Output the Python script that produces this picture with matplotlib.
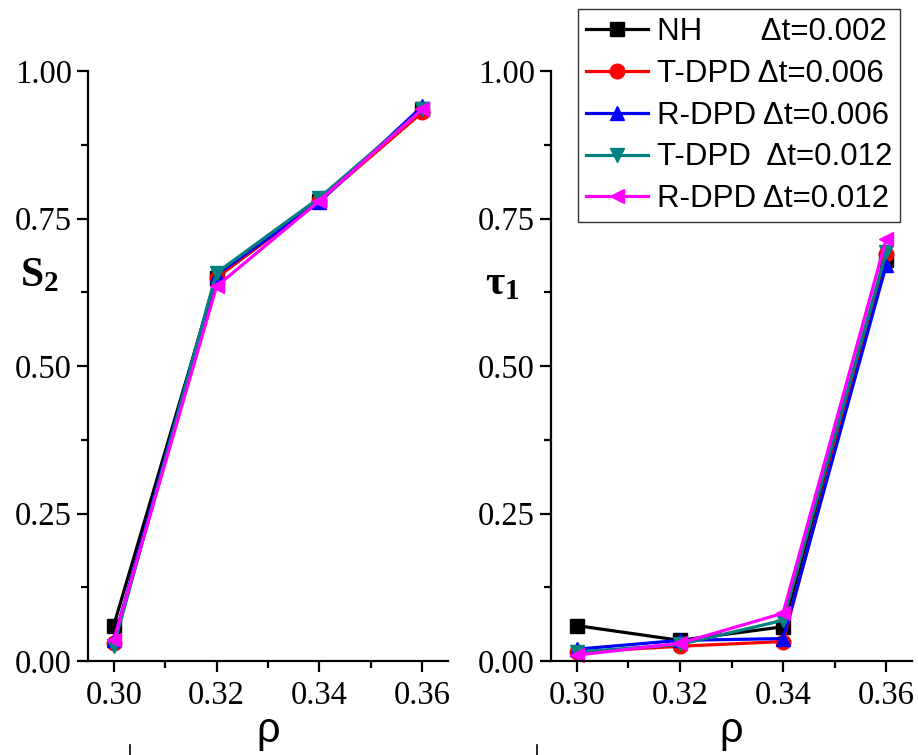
import matplotlib
matplotlib.use("Agg")
import matplotlib.pyplot as plt
from matplotlib.lines import Line2D
from matplotlib.ticker import MultipleLocator

plt.rcParams['mathtext.fontset'] = 'custom'
plt.rcParams['mathtext.rm'] = 'Liberation Serif:bold'
plt.rcParams['mathtext.it'] = 'Liberation Serif:bold'
plt.rcParams['mathtext.bf'] = 'Liberation Serif:bold'

# density values
rho = [0.30, 0.32, 0.34, 0.36]

series_labels = [
    "NH       \u0394t=0.002",
    "T-DPD \u0394t=0.006",
    "R-DPD \u0394t=0.006",
    "T-DPD  \u0394t=0.012",
    "R-DPD \u0394t=0.012",
]
colors = ["black", "red", "blue", "#008080", "magenta"]
markers = ["s", "o", "^", "v", "<"]

# order parameter S2
s2_nh = [0.060, 0.650, 0.780, 0.935]
s2_tdpd_006 = [0.030, 0.650, 0.780, 0.930]
s2_rdpd_006 = [0.035, 0.655, 0.778, 0.940]
s2_tdpd_012 = [0.025, 0.658, 0.785, 0.935]
s2_rdpd_012 = [0.035, 0.635, 0.780, 0.935]

# order parameter tau1
tau_nh = [0.060, 0.035, 0.058, 0.680]
tau_tdpd_006 = [0.015, 0.025, 0.033, 0.690]
tau_rdpd_006 = [0.020, 0.035, 0.038, 0.671]
tau_tdpd_012 = [0.015, 0.028, 0.069, 0.693]
tau_rdpd_012 = [0.010, 0.030, 0.081, 0.715]

s2_series = [s2_nh, s2_tdpd_006, s2_rdpd_006, s2_tdpd_012, s2_rdpd_012]
tau_series = [tau_nh, tau_tdpd_006, tau_rdpd_006, tau_tdpd_012, tau_rdpd_012]

fig = plt.figure(figsize=(9.18, 7.55), dpi=100)
ax1 = fig.add_axes([88 / 918, 1 - 661 / 755, 360 / 918, 590 / 755])
ax2 = fig.add_axes([551 / 918, 1 - 661 / 755, 361 / 918, 590 / 755])

tick_font = dict(family='Liberation Serif', size=23.5)

for ax, data, ylab, ylab_y in [(ax1, s2_series, r'$S_2$', 0.62),
                               (ax2, tau_series, r'$\tau_1$', 0.607)]:
    handles = []
    for vals, c, m, lab in zip(data, colors, markers, series_labels):
        h, = ax.plot(rho, vals, color=c, marker=m, markersize=10.5, lw=2.3,
                     label=lab, clip_on=False)
        handles.append(h)
    ax.set_xlim(0.295, 0.365)
    ax.set_ylim(0.0, 1.0)
    ax.xaxis.set_major_locator(MultipleLocator(0.02))
    ax.xaxis.set_minor_locator(MultipleLocator(0.01))
    ax.yaxis.set_major_locator(MultipleLocator(0.25))
    ax.yaxis.set_minor_locator(MultipleLocator(0.125))
    ax.spines['top'].set_visible(False)
    ax.spines['right'].set_visible(False)
    for s in ('left', 'bottom'):
        ax.spines[s].set_linewidth(1.6)
    ax.tick_params(which='major', direction='out', length=8, width=1.6)
    ax.tick_params(which='minor', direction='out', length=5, width=1.6)
    ax.tick_params(axis='x', which='major', pad=6)
    ax.set_xticks(rho)
    ax.set_xticklabels([f"{v:.2f}" for v in rho], fontdict=tick_font)
    yt = [0.0, 0.25, 0.5, 0.75, 1.0]
    ax.set_yticks(yt)
    ax.set_yticklabels([f"{v:.2f}" for v in yt], fontdict=tick_font)
    ax.set_xlabel('\u03c1', family='Liberation Sans', fontsize=30, labelpad=0)
    ax.set_ylabel(ylab, fontsize=30, rotation=0)
    ax.yaxis.set_label_coords(-0.135, ylab_y)

leg = fig.legend(handles=handles, loc='upper left',
                 bbox_to_anchor=(578 / 918, 1 - 9 / 755),
                 prop=dict(family='Liberation Sans', size=22.5),
                 frameon=True, fancybox=False, edgecolor='black',
                 handlelength=2.0, handletextpad=0.28, labelspacing=0.38,
                 borderpad=0.25, borderaxespad=0.0, markerscale=1.0)
leg.get_frame().set_linewidth(1.0)

# small marks at the bottom edge
for xf in (130 / 918, 537 / 918):
    fig.add_artist(Line2D([xf, xf], [0, 10 / 755], color='black', lw=1.2))

fig.savefig("out.png", dpi=100)
